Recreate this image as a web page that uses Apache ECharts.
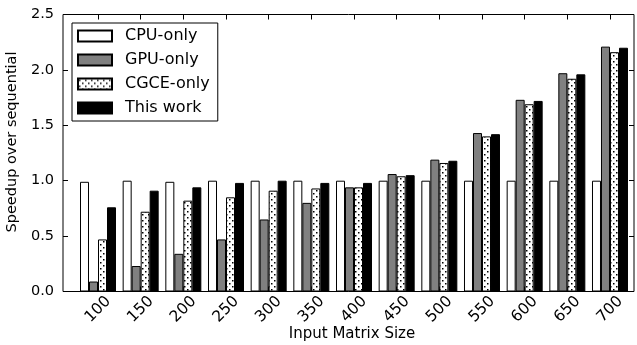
<!DOCTYPE html>
<html>
<head>
<meta charset="utf-8">
<script src="https://cdn.jsdelivr.net/npm/echarts@6/dist/echarts.min.js"></script>
<style>html,body{margin:0;padding:0;background:#fff}#c{width:637px;height:345px}</style>
</head>
<body>
<div id="c"></div>
<script>
const categories = ['100','150','200','250','300','350','400','450','500','550','600','650','700'];
const seriesNames = ['CPU-only','GPU-only','CGCE-only','This work'];
const cpuOnly  = [0.99,1.00,0.99,1.00,1.00,1.00,1.00,1.00,1.00,1.00,1.00,1.00,1.00];
const gpuOnly  = [0.09,0.23,0.34,0.47,0.65,0.80,0.94,1.06,1.19,1.43,1.73,1.97,2.21];
const cgceOnly = [0.47,0.72,0.82,0.85,0.91,0.93,0.94,1.04,1.16,1.40,1.69,1.92,2.16];
const thisWork = [0.76,0.91,0.94,0.98,1.00,0.98,0.98,1.05,1.18,1.42,1.72,1.96,2.20];
const yTicks = [0, 0.5, 1.0, 1.5, 2.0, 2.5];

const FONT = 'DejaVu Sans';

// dotted pattern
const pc = document.createElement('canvas');
pc.width = 6; pc.height = 6;
const pctx = pc.getContext('2d');
pctx.fillStyle = '#fff';
pctx.fillRect(0,0,6,6);
pctx.fillStyle = '#000';
pctx.fillRect(1,1,1.5,1.5);
pctx.fillRect(4,4,1.5,1.5);
const dotPattern = {image: pc, repeat: 'repeat'};

const chart = echarts.init(document.getElementById('c'), null, {renderer: 'canvas'});
const fills = ['#ffffff', '#808080', dotPattern, '#000000'];
const values = [cpuOnly, gpuOnly, cgceOnly, thisWork];

const option = {
  animation: false,
  backgroundColor: '#fff',
  textStyle: {fontFamily: FONT},
  grid: [
    {left: 63, right: 3, top: 14.5, bottom: 53.5, show: true, borderColor: '#000', borderWidth: 1, backgroundColor: 'transparent', z: 5, containLabel: false, outerBoundsMode: 'none'},
    {left: 76.67, right: 5.67, top: 14.5, bottom: 53.5, containLabel: false, outerBoundsMode: 'none'}
  ],
  xAxis: [
    {gridIndex: 0, type: 'value', min: 0, max: 1, show: false},
    {gridIndex: 1, type: 'category', data: categories, position: 'bottom',
     axisLine: {show: false},
     axisTick: {show: true, inside: true, alignWithLabel: true, length: 5, lineStyle: {color: '#000'}},
     axisLabel: {rotate: 45, align: 'center', verticalAlign: 'middle', margin: 18, color: '#000', fontSize: 15.5, fontFamily: FONT},
     name: 'Input Matrix Size', nameLocation: 'middle', nameGap: 35, nameMoveOverlap: false,
     nameTextStyle: {color: '#000', fontSize: 15, fontFamily: FONT, padding: [0, 4, 0, 0]}},
    {gridIndex: 1, type: 'category', data: categories, position: 'top',
     axisLine: {show: false},
     axisTick: {show: true, inside: true, alignWithLabel: true, length: 5, lineStyle: {color: '#000'}},
     axisLabel: {show: false}}
  ],
  yAxis: [
    {gridIndex: 0, type: 'value', min: 0, max: 2.5, interval: 0.5, position: 'left',
     axisLine: {show: false}, splitLine: {show: false},
     axisTick: {show: true, inside: true, length: 5, lineStyle: {color: '#000'}},
     axisLabel: {color: '#000', fontSize: 14.5, fontFamily: FONT, margin: 9, formatter: v => v.toFixed(1)},
     name: 'Speedup over sequential', nameLocation: 'middle', nameGap: 43, nameMoveOverlap: false,
     nameTextStyle: {color: '#000', fontSize: 14.5, fontFamily: FONT, padding: [0, 0, 0, 22]}},
    {gridIndex: 0, type: 'value', min: 0, max: 2.5, interval: 0.5, position: 'right',
     axisLine: {show: false}, splitLine: {show: false},
     axisTick: {show: true, inside: true, length: 5, lineStyle: {color: '#000'}},
     axisLabel: {show: false}},
    {gridIndex: 1, type: 'value', min: 0, max: 2.5, show: false}
  ],
  legend: {
    orient: 'vertical', left: 72, top: 23,
    data: seriesNames,
    icon: 'rect', itemWidth: 34, itemHeight: 11, itemGap: 8, itemSymbolKeepAspect: false,
    padding: [5, 8, 5, 5],
    borderColor: '#000', borderWidth: 1, backgroundColor: '#fff',
    textStyle: {color: '#000', fontSize: 16, lineHeight: 16, fontFamily: FONT, padding: [0,0,0,8]},
    z: 10
  },
  series: seriesNames.map((name, i) => ({
    name: name, type: 'bar', xAxisIndex: 1, yAxisIndex: 2,
    data: values[i], barWidth: 9, barGap: '0%',
    itemStyle: {color: fills[i], borderColor: '#000', borderWidth: 1},
    emphasis: {disabled: true}
  }))
};
chart.setOption(option);
</script>
</body>
</html>
